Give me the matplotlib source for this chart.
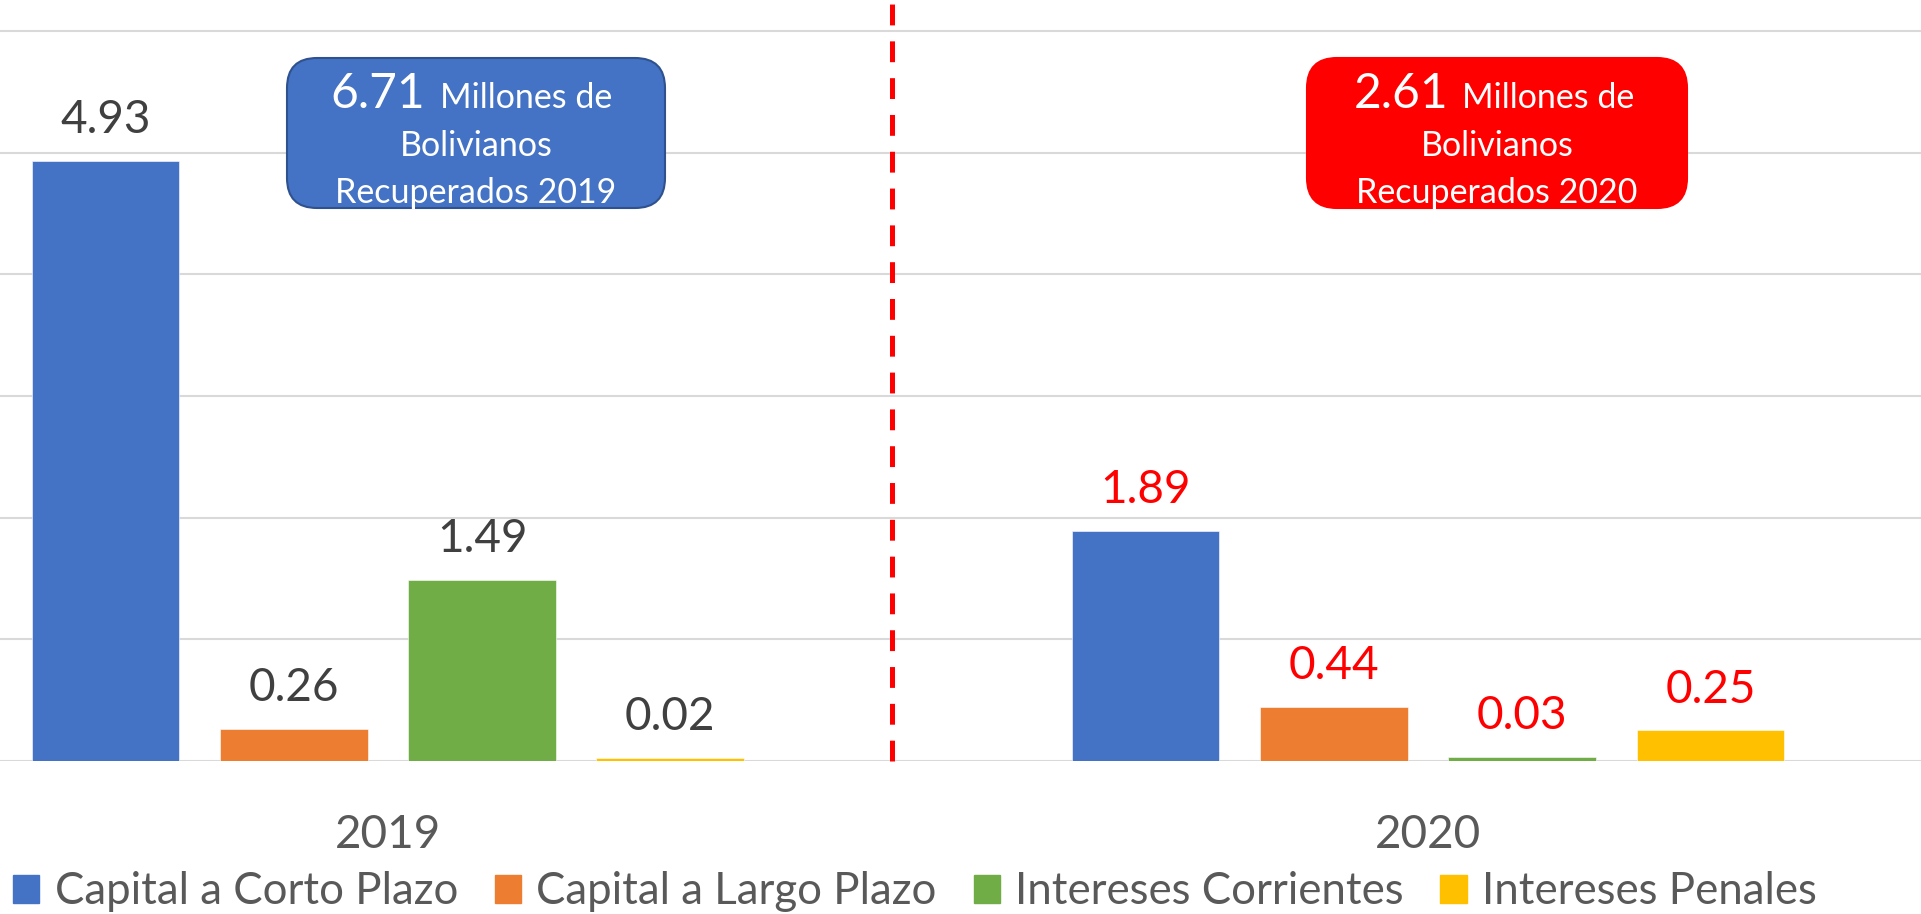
import numpy as np
import matplotlib
matplotlib.use("Agg")
import matplotlib.pyplot as plt
from matplotlib.patches import FancyBboxPatch, Patch

plt.rcParams['font.family'] = ['Lato', 'DejaVu Sans']

# datos
years = ['2019', '2020']
series = ['Capital a Corto Plazo', 'Capital a Largo Plazo',
          'Intereses Corrientes', 'Intereses Penales']
values = [[4.93, 1.89],
          [0.26, 0.44],
          [1.49, 0.03],
          [0.02, 0.25]]
totals = ['6.71', '2.61']
colors = ['#4472C4', '#ED7D31', '#70AD47', '#FFC000']
label_colors = ['#404040', '#FF0000']
box_colors = ['#4472C4', '#FF0000']
box_edges = ['#2F528F', '#FF0000']

W, H, DPI = 1921, 914, 100
fig = plt.figure(figsize=(W / DPI, H / DPI), dpi=DPI)
ax = fig.add_axes([0, 1 - 760.7 / H, 1, 760.7 / H])

x = np.arange(len(years))
step = 0.181
width = 0.142
for i, (name, vals) in enumerate(zip(series, values)):
    pos = x + (i - 1.5) * step
    ax.bar(pos, vals, width, color=colors[i], label=name, zorder=3,
           edgecolor='white', linewidth=0.4)
    for j, (p, v) in enumerate(zip(pos, vals)):
        ax.annotate(f'{v:.2f}', (p, v), xytext=(0, 20), textcoords='offset points',
                    ha='center', va='baseline', fontsize=33, color=label_colors[j])

for g in range(7):
    ax.axhline(g, color='#d9d9d9', lw=1.5, zorder=1)

# etiquetas de año
for xi, yr in zip(x, years):
    ax.annotate(yr, (xi, 0), xytext=(0, -63), textcoords='offset points',
                ha='center', va='baseline', fontsize=33, color='#595959',
                annotation_clip=False)

# linea divisoria
ax.plot([0.485, 0.485], [0, 6.25], color='#FF0000', lw=3.6,
        dashes=(15 / 3.6, 11.5 / 3.6), zorder=4, clip_on=False)

ax.set_xlim(-0.373, 1.474)
ax.set_ylim(0, 6.256)
ax.axis('off')

# cuadros de totales (coordenadas en pixeles)
def px(xp, yp):
    return xp / DPI, (H - yp) / DPI

boxes = [(287, 665), (1307, 1687)]
split = [(425, 440), (1448, 1462)]
for k, (x0, x1) in enumerate(boxes):
    bx, by = px(x0, 208)
    bw, bh = (x1 - x0) / DPI, (208 - 58) / DPI
    p = FancyBboxPatch((bx + 0.3, by + 0.3), bw - 0.6, bh - 0.6,
                       boxstyle='round,pad=0.3,rounding_size=0.3',
                       transform=fig.dpi_scale_trans, fc=box_colors[k],
                       ec=box_edges[k], lw=1.5)
    fig.patches.append(p)
    cx = (x0 + x1) / 2
    tx, ty = px(split[k][0], 108)
    fig.text(tx, ty, totals[k], transform=fig.dpi_scale_trans, ha='right',
             va='baseline', fontsize=34.5, color='white')
    tx, ty = px(split[k][1], 108)
    fig.text(tx, ty, 'Millones de', transform=fig.dpi_scale_trans, ha='left',
             va='baseline', fontsize=24.5, color='white')
    tx, ty = px(cx, 156)
    fig.text(tx, ty, 'Bolivianos', transform=fig.dpi_scale_trans, ha='center',
             va='baseline', fontsize=24.5, color='white')
    tx, ty = px(cx, 203)
    fig.text(tx, ty, 'Recuperados ' + years[k], transform=fig.dpi_scale_trans,
             ha='center', va='baseline', fontsize=24.5, color='white')

handles = [Patch(color=c) for c in colors]
leg = fig.legend(handles, series, ncol=4, loc='center left',
                 bbox_to_anchor=(0.0, 1 - 892 / H), frameon=False,
                 fontsize=31.5, handlelength=0.6, handleheight=0.6,
                 handletextpad=0.35, columnspacing=0.84, borderpad=0,
                 borderaxespad=0.3)
for t in leg.get_texts():
    t.set_color('#595959')

fig.savefig('out.png', dpi=DPI)
